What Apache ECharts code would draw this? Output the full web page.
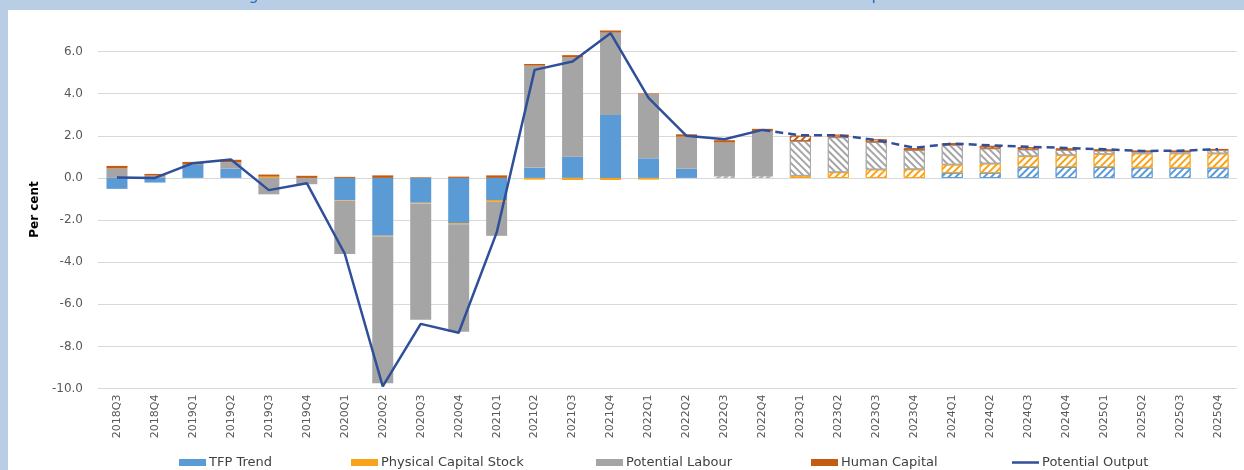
<!DOCTYPE html>
<html>
<head>
<meta charset="utf-8">
<script src="https://cdn.jsdelivr.net/npm/echarts@6/dist/echarts.min.js"></script>
<style>
  html, body { margin: 0; padding: 0; background: #b9cde4; }
  #chart { width: 1244px; height: 470px; }
</style>
</head>
<body>
<div id="chart"></div>
<script>
const categories = ['2018Q3','2018Q4','2019Q1','2019Q2','2019Q3','2019Q4','2020Q1','2020Q2','2020Q3','2020Q4',
  '2021Q1','2021Q2','2021Q3','2021Q4','2022Q1','2022Q2','2022Q3','2022Q4','2023Q1','2023Q2',
  '2023Q3','2023Q4','2024Q1','2024Q2','2024Q3','2024Q4','2025Q1','2025Q2','2025Q3','2025Q4'];
const tfpTrend = [-0.52,-0.22,0.64,0.44,0,0,-1.05,-2.75,-1.18,-2.15,
  -1.05,0.49,1.01,2.99,0.93,0.44,0,0,0,0,
  0,0,0.24,0.24,0.52,0.52,0.52,0.49,0.48,0.48];
const physicalCapital = [0,0,0,0,0.06,0,-0.03,-0.03,-0.03,-0.05,
  -0.08,-0.08,-0.1,-0.1,-0.08,0,0.08,0.08,0.1,0.27,
  0.4,0.41,0.39,0.44,0.51,0.56,0.61,0.67,0.68,0.68];
const potentialLabour = [0.45,0.11,0,0.31,-0.78,-0.3,-2.53,-6.97,-5.53,-5.1,
  -1.62,4.84,4.71,3.91,3.04,1.52,1.6,2.15,1.65,1.66,
  1.3,0.91,0.93,0.72,0.32,0.24,0.16,0.08,0.08,0.16];
const humanCapital = [0.12,0.08,0.12,0.11,0.1,0.1,0.05,0.12,0.03,0.06,
  0.12,0.08,0.11,0.13,0.04,0.11,0.11,0.1,0.25,0.12,
  0.13,0.09,0.09,0.12,0.11,0.08,0.06,0.05,0.05,0.05];
const potentialOutput = [0.02,0.0,0.7,0.87,-0.58,-0.25,-3.6,-9.9,-6.93,-7.35,
  -2.6,5.13,5.53,6.87,3.8,2.0,1.84,2.28,2.02,2.03,
  1.8,1.43,1.63,1.55,1.48,1.42,1.36,1.28,1.29,1.36];
const yTicks = { min: -10, max: 7, interval: 2 };
const forecastStart = 18;   // first projected quarter (hatched bars)
const lastActual = 17;      // line is solid up to here, dashed after

const FONT = '"DejaVu Sans", sans-serif';
const C = { tfp: '#5b9bd5', pc: '#f9a31b', pl: '#a5a5a5', hc: '#c55a11', po: '#2f4f99' };

function hatch(color, dir) {
  return { symbol: 'rect', symbolSize: 1, color: color, dashArrayX: [1, 0], dashArrayY: [2, 3],
    rotation: dir * Math.PI / 4, maxTileWidth: 64, maxTileHeight: 64 };
}
function barData(values, color, dir, special) {
  return values.map((v, i) => {
    if (special && special[i]) return special[i](v);
    if (i < forecastStart) return v;
    if (v === 0) return '-';
    return { value: v, itemStyle: { color: '#ffffff', borderColor: color, borderWidth: 0.8, decal: hatch(color, dir) } };
  });
}
function barSeries(name, values, color, dir, special) {
  return { name: name, type: 'bar', stack: 'total', barWidth: 21, itemStyle: { color: color },
    emphasis: { disabled: true }, data: barData(values, color, dir, special) };
}
const pcSpecial = {
  16: v => ({ value: v, itemStyle: { color: '#a5a5a5', decal: hatch('#ffffff', -1) } }),
  17: v => ({ value: v, itemStyle: { color: '#a5a5a5', decal: hatch('#ffffff', -1) } })
};

const actualLine = potentialOutput.map((v, i) => i <= lastActual ? v : '-');
const forecastLine = potentialOutput.map((v, i) => i >= lastActual ? v : '-');

function legendAt(name, left, h) {
  return { left: left, top: 451, itemWidth: 27, itemHeight: h, icon: 'rect',
    data: [name], selectedMode: false,
    textStyle: { fontFamily: FONT, fontSize: 13, color: '#404040', padding: [0, 0, 0, -2] } };
}

const chart = echarts.init(document.getElementById('chart'), null, { renderer: 'canvas' });
chart.setOption({
  animation: false,
  backgroundColor: '#b9cde4',
  graphic: [
    { type: 'rect', left: 8, top: 10, z: -100, shape: { width: 1236, height: 460 }, style: { fill: '#ffffff' } },
    { type: 'text', left: 236, top: -12, z: 100,
      style: { text: 'Figure 3: Contributions to the Estimated Annual Rate of Growth in Potential Output',
        fill: '#1f6fc4', font: '16px ' + FONT } }
  ],
  grid: { left: 98, right: 7, top: 30.5, bottom: 81.5, containLabel: false },
  legend: [
    legendAt('TFP Trend', 174, 7),
    legendAt('Physical Capital Stock', 346, 7),
    legendAt('Potential Labour', 591, 7),
    legendAt('Human Capital', 806, 7),
    legendAt('Potential Output', 1007, 2.5)
  ],
  xAxis: {
    type: 'category', data: categories,
    axisLine: { show: false }, axisTick: { show: false },
    axisLabel: { rotate: 90, interval: 0, margin: 6, fontFamily: FONT, fontSize: 11, color: '#595959' }
  },
  yAxis: {
    type: 'value', min: yTicks.min, max: yTicks.max, interval: yTicks.interval,
    name: 'Per cent', nameLocation: 'middle', nameGap: 55,
    nameTextStyle: { fontFamily: FONT, fontSize: 12, fontWeight: 'bold', color: '#000000' },
    axisLine: { show: false }, axisTick: { show: false },
    axisLabel: { showMaxLabel: false, margin: 15, fontFamily: FONT, fontSize: 12, color: '#595959',
      formatter: v => v.toFixed(1) },
    splitLine: { showMaxLine: false, lineStyle: { color: '#d9d9d9', width: 1 } }
  },
  series: [
    barSeries('TFP Trend', tfpTrend, C.tfp, -1),
    barSeries('Physical Capital Stock', physicalCapital, C.pc, -1, pcSpecial),
    barSeries('Potential Labour', potentialLabour, C.pl, 1),
    barSeries('Human Capital', humanCapital, C.hc, -1),
    { name: 'Potential Output', type: 'line', data: actualLine, showSymbol: false, symbol: 'none',
      lineStyle: { color: C.po, width: 2.5 }, itemStyle: { color: C.po }, z: 5, emphasis: { disabled: true } },
    { name: 'Potential Output', type: 'line', data: forecastLine, showSymbol: false, symbol: 'none',
      lineStyle: { color: C.po, width: 2.5, type: [8, 5] }, itemStyle: { color: C.po }, z: 5, emphasis: { disabled: true } }
  ]
});
</script>
</body>
</html>
